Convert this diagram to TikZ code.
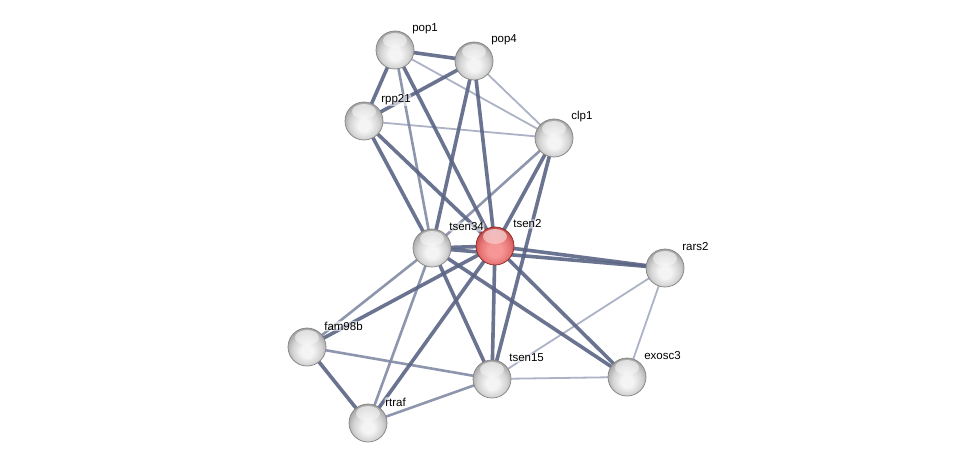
\documentclass[tikz,border=0pt]{standalone}
\usepackage{fontspec}
\setmainfont{Liberation Sans}
\usetikzlibrary{calc,fadings}
\definecolor{strongc}{RGB}{90,100,132}
\definecolor{medc}{RGB}{130,139,165}
\definecolor{weakc}{RGB}{172,179,198}
\definecolor{grout}{RGB}{130,130,130}
\definecolor{g1}{RGB}{244,244,244}
\definecolor{g2}{RGB}{212,212,212}
\definecolor{g3}{RGB}{168,168,168}
\definecolor{g4}{RGB}{140,140,140}
\definecolor{r1}{RGB}{246,150,150}
\definecolor{r2}{RGB}{230,115,115}
\definecolor{r3}{RGB}{198,78,78}
\definecolor{r4}{RGB}{160,50,50}
\definecolor{rout}{RGB}{140,35,35}
\pgfdeclareradialshading{greysphere}{\pgfpoint{0bp}{-7bp}}{color(0bp)=(g1); color(8bp)=(g1); color(19bp)=(g2); color(27bp)=(g3); color(33bp)=(g4); color(50bp)=(g4)}
\pgfdeclareradialshading{redsphere}{\pgfpoint{0bp}{-7bp}}{color(0bp)=(r1); color(9bp)=(r1); color(20bp)=(r2); color(27bp)=(r3); color(33bp)=(r4); color(50bp)=(r4)}
\tikzfading[name=hlfade, top color=transparent!35, bottom color=transparent!100]
\tikzset{
  strong/.style={draw=strongc, line width=3.6pt, opacity=0.9},
  medium/.style={draw=medc, line width=2.6pt, opacity=0.9},
  weak/.style={draw=weakc, line width=1.8pt},
  ballnode/.style={circle, minimum size=38pt, inner sep=0pt, shading=greysphere, draw=grout, line width=0.7pt,
    path picture={\fill[white, path fading=hlfade] ($(path picture bounding box.center)+(0,-9.5)$) ellipse [x radius=12, y radius=7.5];}},
  redball/.style={ballnode, shading=redsphere, draw=rout},
  lbl/.style={anchor=west, font=\fontsize{11.5}{13}\selectfont, inner sep=0.6pt, fill=white, fill opacity=0.6, text opacity=1, rounded corners=2pt}
}
\begin{document}
\begin{tikzpicture}[x=1pt,y=-1pt]
\useasboundingbox (0,0) rectangle (976,468);
\fill[white] (0,0) rectangle (976,468);
% node coordinates
\coordinate (pop1) at (395,50);
\coordinate (pop4) at (474,61);
\coordinate (rpp21) at (364,121);
\coordinate (clp1) at (554,138);
\coordinate (tsen34) at (432,248);
\coordinate (tsen2) at (495,246);
\coordinate (rars2) at (665,268);
\coordinate (fam98b) at (307,347);
\coordinate (tsen15) at (492,379);
\coordinate (exosc3) at (627,377);
\coordinate (rtraf) at (368,423);
% weak edges
\draw[weak] (pop1) -- (clp1);
\draw[weak] (pop4) -- (clp1);
\draw[weak] (rpp21) -- (clp1);
\draw[weak] (rars2) -- (tsen15);
\draw[weak] (rars2) -- (exosc3);
\draw[weak] (tsen15) -- (exosc3);
% medium edges
\draw[medium] (pop1) -- (tsen34);
\draw[medium] (clp1) -- (tsen34);
\draw[medium] (tsen34) -- (fam98b);
\draw[medium] (tsen34) -- (rtraf);
\draw[medium] (fam98b) -- (tsen15);
\draw[medium] (tsen15) -- (rtraf);
% strong edges
\draw[strong] (pop1) -- (pop4);
\draw[strong] (pop1) -- (rpp21);
\draw[strong] (pop1) -- (tsen2);
\draw[strong] (pop4) -- (rpp21);
\draw[strong] (pop4) -- (tsen34);
\draw[strong] (pop4) -- (tsen2);
\draw[strong] (rpp21) -- (tsen34);
\draw[strong] (rpp21) -- (tsen2);
\draw[strong] (clp1) -- (tsen2);
\draw[strong] (clp1) -- (tsen15);
\draw[strong] (tsen34) -- (tsen2);
\draw[strong] (tsen34) -- (rars2);
\draw[strong] (tsen2) -- (rars2);
\draw[strong] (tsen34) -- (tsen15);
\draw[strong] (tsen34) -- (exosc3);
\draw[strong] (tsen2) -- (fam98b);
\draw[strong] (tsen2) -- (rtraf);
\draw[strong] (tsen2) -- (tsen15);
\draw[strong] (tsen2) -- (exosc3);
\draw[strong] (fam98b) -- (rtraf);
% nodes
\foreach \n in {pop1,pop4,rpp21,clp1,tsen34,rars2,fam98b,tsen15,exosc3,rtraf}{
  \node[ballnode] (b\n) at (\n) {};
}
\node[redball] (btsen2) at (tsen2) {};
\foreach \n in {pop1,pop4,rpp21,clp1,tsen34,rars2,fam98b,tsen15,exosc3,rtraf}{
  \node[lbl] (l\n) at ($(\n)+(16.5,-21)$) {\n};
}
\node[lbl] (ltsen2) at ($(tsen2)+(17.5,-22)$) {tsen2};
\end{tikzpicture}
\end{document}
